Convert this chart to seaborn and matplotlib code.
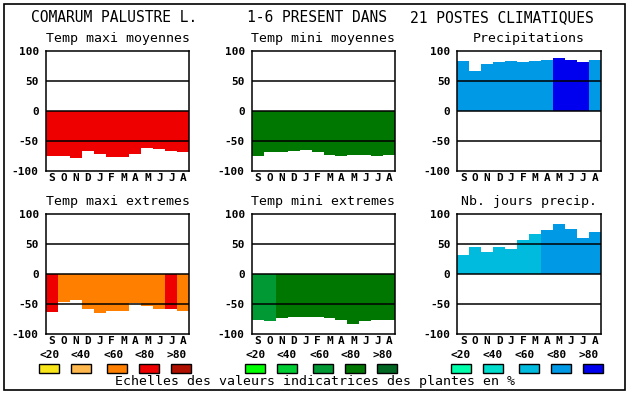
import numpy as np
import pandas as pd
import matplotlib
matplotlib.use("Agg")
import matplotlib.pyplot as plt
from matplotlib.patches import Rectangle
import seaborn as sns

# month labels (Sept -> Aug)
months = ["S", "O", "N", "D", "J", "F", "M", "A", "M", "J", "J", "A"]
classes = ["<20", "<40", "<60", "<80", ">80"]

# values
tmax_moy = [-76, -76, -79, -67, -73, -77, -77, -73, -62, -64, -67, -69]
tmax_moy_cls = ["<80"] * 12
tmin_moy = [-76, -69, -69, -67, -66, -69, -74, -76, -74, -74, -76, -74]
tmin_moy_cls = ["<80"] * 12
precip = [83, 66, 78, 81, 83, 81, 83, 84, 88, 84, 81, 84]
precip_cls = ["<80"] * 8 + [">80"] * 3 + ["<80"]
tmax_ext = [-62, -46, -42, -57, -64, -61, -61, -47, -52, -57, -57, -61]
tmax_ext_cls = ["<80"] + ["<60"] * 9 + ["<80", "<60"]
tmin_ext = [-76, -77, -72, -71, -71, -71, -72, -76, -82, -77, -76, -76]
tmin_ext_cls = ["<60"] * 2 + ["<80"] * 10
jours = [32, 46, 37, 46, 43, 57, 67, 74, 84, 76, 61, 71]
jours_cls = ["<60"] * 7 + ["<80"] * 5

# colour scales
warm = ["#f8e61a", "#ffb84d", "#ff8000", "#ee0000", "#b01000"]
green = ["#00ff00", "#00cc33", "#009933", "#007700", "#006622"]
blue = ["#00ffaa", "#00ddcc", "#00bbdd", "#0099e6", "#0000ee"]

sns.set_theme(style="white")
plt.rcParams["font.family"] = ["DejaVu Sans Mono"]

W, H = 630, 394
fig = plt.figure(figsize=(W / 100, H / 100), dpi=100)

panels = [
    ("Temp maxi moyennes", tmax_moy, tmax_moy_cls, warm, 45.7, 50.7),
    ("Temp mini moyennes", tmin_moy, tmin_moy_cls, green, 251.7, 50.7),
    ("Precipitations", precip, precip_cls, blue, 457.3, 50.7),
    ("Temp maxi extremes", tmax_ext, tmax_ext_cls, warm, 45.7, 214.3),
    ("Temp mini extremes", tmin_ext, tmin_ext_cls, green, 251.7, 214.3),
    ("Nb. jours precip.", jours, jours_cls, blue, 457.3, 214.3),
]
pw, ph = 143.6, 120

for title, vals, cls, pal, px, py in panels:
    ax = fig.add_axes([px / W, (H - py - ph) / H, pw / W, ph / H])
    df = pd.DataFrame({"pos": np.arange(12), "val": vals, "cls": cls})
    sns.barplot(data=df, x="pos", y="val", hue="cls",
                palette=dict(zip(classes, pal)), dodge=False, width=1.0,
                saturation=1, linewidth=0, legend=False, ax=ax)
    for yv in (50, 0, -50):
        ax.axhline(yv, color="black", lw=1.1, zorder=5)
    ax.set_xlim(-0.5, 11.5)
    ax.set_ylim(-100, 100)
    ax.set_yticks([-100, -50, 0, 50, 100])
    ax.set_yticklabels(["-100", "-50", "0", "50", "100"])
    ax.set_xticks(np.arange(12))
    ax.set_xticklabels(months)
    ax.set_xlabel("")
    ax.set_ylabel("")
    ax.tick_params(axis="both", length=0, labelsize=8, colors="black")
    ax.tick_params(axis="y", pad=5)
    ax.tick_params(axis="x", pad=1.5)
    for lab in ax.get_xticklabels() + ax.get_yticklabels():
        lab.set_fontweight("bold")
    for s in ax.spines.values():
        s.set_color("black")
        s.set_linewidth(1.1)
    fig.text((px + pw / 2) / W, (H - py + 12.5) / H, title, ha="center",
             va="center", fontsize=9.5, color="black")

# legends under the bottom row
lab_off = [3.6, 35.3, 67.6, 99.3, 131.0]
box_off = [3.6, 35.6, 71.6, 103.6, 135.6]
for pal, px in [(warm, 45.7), (green, 251.7), (blue, 457.3)]:
    for i, c in enumerate(classes):
        fig.text((px + lab_off[i]) / W, (H - 355) / H, c, ha="center",
                 va="center", fontsize=8, fontweight="bold", color="black")
        fig.add_artist(Rectangle(((px + box_off[i] - 10) / W, (H - 373) / H),
                                 20 / W, 9 / H, transform=fig.transFigure,
                                 facecolor=pal[i], edgecolor="black", lw=1))

fig.text(115 / W, (H - 382) / H,
         "Echelles des valeurs indicatrices des plantes en %",
         ha="left", va="center", fontsize=9.5, color="black")

# main title
fig.text(31 / W, (H - 18) / H, "COMARUM PALUSTRE L.", ha="left", va="center",
         fontsize=10.5, color="black")
fig.text(247 / W, (H - 18) / H, "1-6 PRESENT DANS", ha="left", va="center",
         fontsize=10.5, color="black")
fig.text(410 / W, (H - 18) / H, "21 POSTES CLIMATIQUES", ha="left",
         va="center", fontsize=10.5, color="black")

# outer frame
fig.add_artist(Rectangle((4 / W, 4 / H), 621 / W, 386 / H,
                         transform=fig.transFigure, fill=False,
                         edgecolor="black", lw=1.2))

fig.savefig("out.png", dpi=100)
